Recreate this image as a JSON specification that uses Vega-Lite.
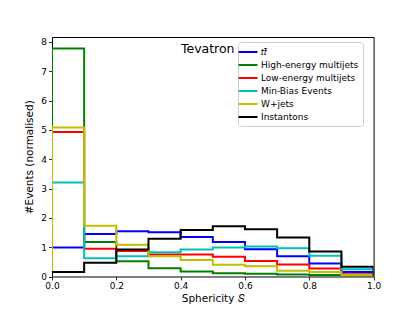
{
  "$schema": "https://vega.github.io/schema/vega-lite/v6.json",
  "width": 321.6,
  "height": 239.5,
  "autosize": {"type": "none"},
  "padding": {"left": 52, "top": 37, "right": 41, "bottom": 34},
  "background": "white",
  "config": {
    "font": "DejaVu Sans",
    "view": {"stroke": "black", "strokeWidth": 1},
    "axis": {
      "domain": false,
      "grid": false,
      "tickColor": "black",
      "tickSize": 3.5,
      "tickWidth": 0.8,
      "labelFont": "DejaVu Sans",
      "labelFontSize": 9,
      "labelColor": "black",
      "labelPadding": 2,
      "labelFlush": false,
      "labelOverlap": false,
      "titleFont": "DejaVu Sans",
      "titleFontSize": 10.5,
      "titleFontWeight": "normal",
      "titleColor": "black"
    },
    "legend": {
      "orient": "none",
      "legendX": 186,
      "legendY": 5,
      "symbolType": "M-1.9,0H1.9",
      "symbolSize": 100,
      "symbolStrokeWidth": 2,
      "symbolFillColor": "transparent",
      "labelFont": "DejaVu Sans",
      "labelFontSize": 9,
      "labelColor": "black",
      "labelOffset": 7,
      "padding": 4,
      "rowPadding": 2,
      "strokeColor": "#cccccc",
      "fillColor": "white",
      "cornerRadius": 3
    }
  },
  "encoding": {
    "x": {
      "field": "x", "type": "quantitative",
      "scale": {"domain": [0, 1], "nice": false, "zero": false},
      "axis": {"values": [0, 0.2, 0.4, 0.6, 0.8, 1.0], "format": ".1f", "title": "Sphericity 𝑆", "titlePadding": 3}
    },
    "y": {
      "field": "y", "type": "quantitative",
      "scale": {"domain": [0, 8.17], "nice": false},
      "axis": {"values": [0, 1, 2, 3, 4, 5, 6, 7, 8], "title": "#Events (normalised)", "titlePadding": 6, "labelOverlap": false}
    }
  },
  "layer": [
    {
      "data": {
        "values": [
          {"s": "tt", "x": 0, "y": 0}, {"s": "tt", "x": 0, "y": 0.99}, {"s": "tt", "x": 0.1, "y": 1.45}, {"s": "tt", "x": 0.2, "y": 1.54}, {"s": "tt", "x": 0.3, "y": 1.51}, {"s": "tt", "x": 0.4, "y": 1.35}, {"s": "tt", "x": 0.5, "y": 1.18}, {"s": "tt", "x": 0.6, "y": 0.93}, {"s": "tt", "x": 0.7, "y": 0.69}, {"s": "tt", "x": 0.8, "y": 0.44}, {"s": "tt", "x": 0.9, "y": 0.15}, {"s": "tt", "x": 1.0, "y": 0},
          {"s": "High-energy multijets", "x": 0, "y": 0}, {"s": "High-energy multijets", "x": 0, "y": 7.78}, {"s": "High-energy multijets", "x": 0.1, "y": 1.18}, {"s": "High-energy multijets", "x": 0.2, "y": 0.52}, {"s": "High-energy multijets", "x": 0.3, "y": 0.28}, {"s": "High-energy multijets", "x": 0.4, "y": 0.17}, {"s": "High-energy multijets", "x": 0.5, "y": 0.11}, {"s": "High-energy multijets", "x": 0.6, "y": 0.09}, {"s": "High-energy multijets", "x": 0.7, "y": 0.07}, {"s": "High-energy multijets", "x": 0.8, "y": 0.05}, {"s": "High-energy multijets", "x": 0.9, "y": 0.03}, {"s": "High-energy multijets", "x": 1.0, "y": 0},
          {"s": "Low-energy multijets", "x": 0, "y": 0}, {"s": "Low-energy multijets", "x": 0, "y": 4.93}, {"s": "Low-energy multijets", "x": 0.1, "y": 0.95}, {"s": "Low-energy multijets", "x": 0.2, "y": 0.87}, {"s": "Low-energy multijets", "x": 0.3, "y": 0.75}, {"s": "Low-energy multijets", "x": 0.4, "y": 0.75}, {"s": "Low-energy multijets", "x": 0.5, "y": 0.67}, {"s": "Low-energy multijets", "x": 0.6, "y": 0.53}, {"s": "Low-energy multijets", "x": 0.7, "y": 0.41}, {"s": "Low-energy multijets", "x": 0.8, "y": 0.27}, {"s": "Low-energy multijets", "x": 0.9, "y": 0.08}, {"s": "Low-energy multijets", "x": 1.0, "y": 0},
          {"s": "Min-Bias Events", "x": 0, "y": 0}, {"s": "Min-Bias Events", "x": 0, "y": 3.21}, {"s": "Min-Bias Events", "x": 0.1, "y": 0.62}, {"s": "Min-Bias Events", "x": 0.2, "y": 0.69}, {"s": "Min-Bias Events", "x": 0.3, "y": 0.83}, {"s": "Min-Bias Events", "x": 0.4, "y": 0.92}, {"s": "Min-Bias Events", "x": 0.5, "y": 0.99}, {"s": "Min-Bias Events", "x": 0.6, "y": 1.02}, {"s": "Min-Bias Events", "x": 0.7, "y": 0.96}, {"s": "Min-Bias Events", "x": 0.8, "y": 0.71}, {"s": "Min-Bias Events", "x": 0.9, "y": 0.25}, {"s": "Min-Bias Events", "x": 1.0, "y": 0},
          {"s": "W+jets", "x": 0, "y": 0}, {"s": "W+jets", "x": 0, "y": 5.08}, {"s": "W+jets", "x": 0.1, "y": 1.73}, {"s": "W+jets", "x": 0.2, "y": 1.08}, {"s": "W+jets", "x": 0.3, "y": 0.69}, {"s": "W+jets", "x": 0.4, "y": 0.56}, {"s": "W+jets", "x": 0.5, "y": 0.40}, {"s": "W+jets", "x": 0.6, "y": 0.35}, {"s": "W+jets", "x": 0.7, "y": 0.20}, {"s": "W+jets", "x": 0.8, "y": 0.15}, {"s": "W+jets", "x": 0.9, "y": 0.05}, {"s": "W+jets", "x": 1.0, "y": 0},
          {"s": "Instantons", "x": 0, "y": 0}, {"s": "Instantons", "x": 0, "y": 0.15}, {"s": "Instantons", "x": 0.1, "y": 0.47}, {"s": "Instantons", "x": 0.2, "y": 0.92}, {"s": "Instantons", "x": 0.3, "y": 1.29}, {"s": "Instantons", "x": 0.4, "y": 1.59}, {"s": "Instantons", "x": 0.5, "y": 1.71}, {"s": "Instantons", "x": 0.6, "y": 1.61}, {"s": "Instantons", "x": 0.7, "y": 1.33}, {"s": "Instantons", "x": 0.8, "y": 0.85}, {"s": "Instantons", "x": 0.9, "y": 0.33}, {"s": "Instantons", "x": 1.0, "y": 0}
        ]
      },
      "mark": {"type": "line", "interpolate": "step-after", "strokeWidth": 2, "clip": true},
      "encoding": {
        "color": {
          "field": "s", "type": "nominal",
          "scale": {
            "domain": ["tt", "High-energy multijets", "Low-energy multijets", "Min-Bias Events", "W+jets", "Instantons"],
            "range": ["#0000ff", "#008000", "#ff0000", "#00bfbf", "#bfbf00", "#000000"]
          },
          "legend": {"title": null, "labelExpr": "datum.label == 'tt' ? '𝑡𝑡̄' : datum.label"}
        },
        "order": [{"field": "x", "type": "quantitative"}, {"field": "y", "type": "quantitative"}]
      }
    },
    {
      "data": {"values": [{"label": "Tevatron", "x": 0.401, "y": 7.77}]},
      "mark": {"type": "text", "align": "left", "baseline": "middle", "fontSize": 12.5, "font": "DejaVu Sans", "color": "black"},
      "encoding": {
        "text": {"field": "label"}
      }
    }
  ]
}
